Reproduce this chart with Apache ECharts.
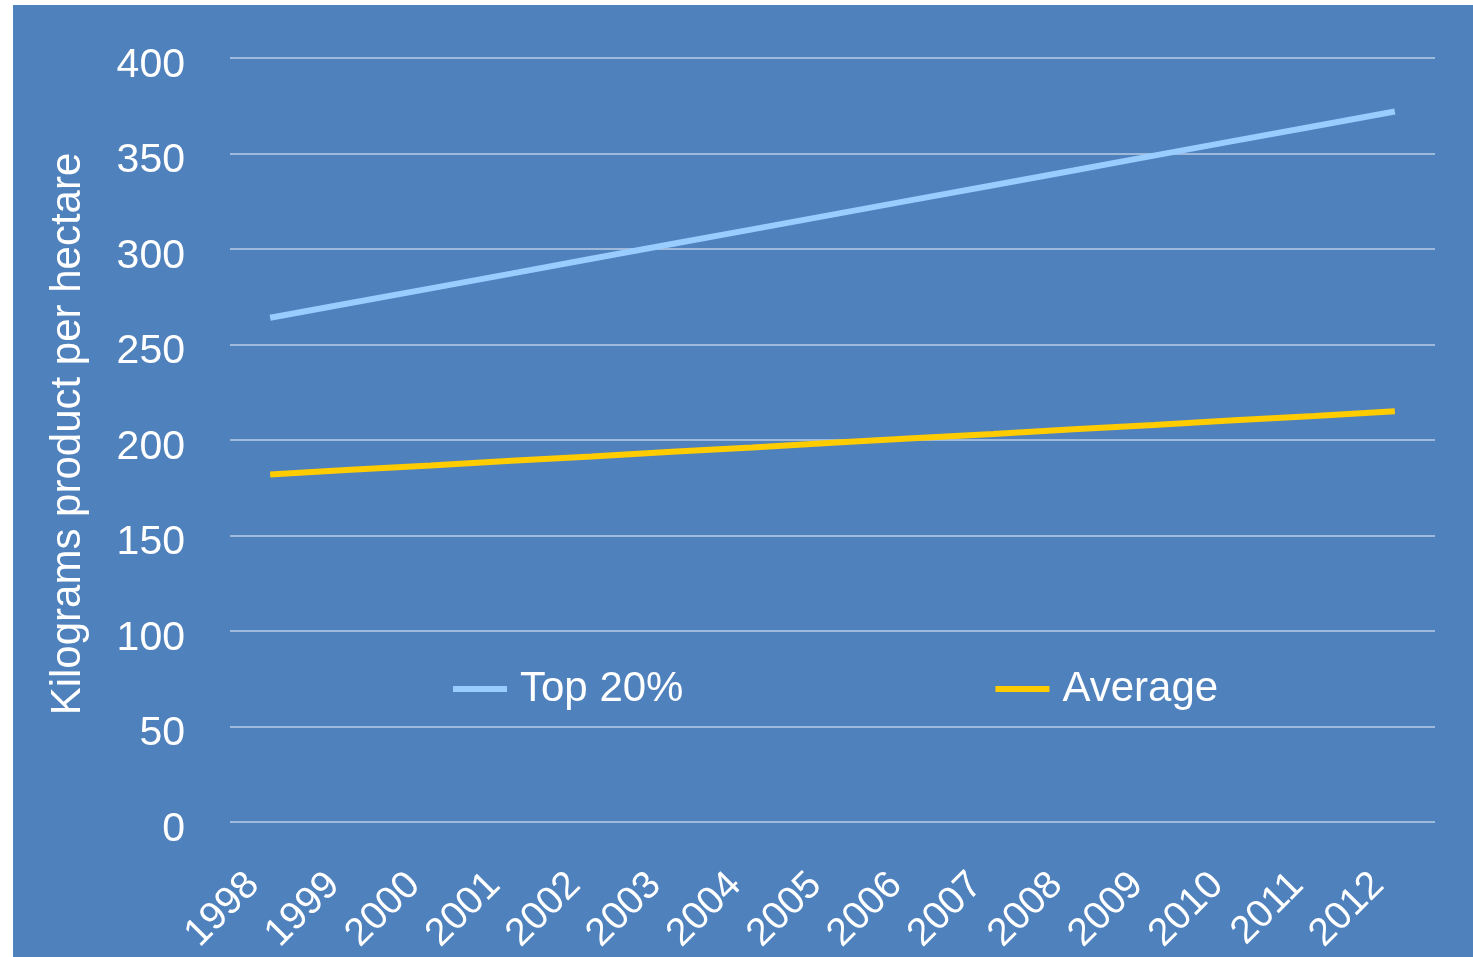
<!DOCTYPE html>
<html>
<head>
<meta charset="utf-8">
<script src="https://cdn.jsdelivr.net/npm/echarts@6/dist/echarts.min.js"></script>
<style>
html,body{margin:0;padding:0;background:#ffffff;width:1473px;height:957px;overflow:hidden;}
#chart{position:absolute;left:13px;top:5px;width:1460px;height:952px;}
</style>
</head>
<body>
<div id="chart"></div>
<script>
const years = ['1998','1999','2000','2001','2002','2003','2004','2005','2006','2007','2008','2009','2010','2011','2012'];
const top20 = [264, 271.7, 279.4, 287.1, 294.9, 302.6, 310.3, 318, 325.7, 333.4, 341.1, 348.9, 356.6, 364.3, 372];
const average = [182, 184.4, 186.7, 189.1, 191.4, 193.8, 196.1, 198.5, 200.9, 203.2, 205.6, 207.9, 210.3, 212.6, 215];
const seriesNames = ['Top 20%', 'Average'];
const yTitle = 'Kilograms product per hectare';

const font = 'Liberation Sans, Arial, sans-serif';
const chart = echarts.init(document.getElementById('chart'));
chart.setOption({
  backgroundColor: '#4F81BD',
  animation: false,
  grid: {left: 217, right: 38, top: 53, bottom: 135, containLabel: false},
  legend: {
    left: 435, top: 658,
    icon: 'rect', itemWidth: 54, itemHeight: 6, itemGap: 312,
    textStyle: {color: '#ffffff', fontSize: 42, fontFamily: font, padding: [0, 0, 0, 8]},
    data: seriesNames
  },
  xAxis: {
    type: 'category', data: years, boundaryGap: true,
    axisLine: {show: false}, axisTick: {show: false},
    axisLabel: {color: '#ffffff', fontSize: 39, fontFamily: font, rotate: 45, margin: 40, interval: 0,
                padding: [0, 24, 0, 0]}
  },
  yAxis: {
    type: 'value', min: 0, max: 400, interval: 50,
    name: yTitle, nameLocation: 'middle', nameGap: 141,
    nameTextStyle: {color: '#ffffff', fontSize: 42, fontFamily: font, padding: [0, 0, 0, 12]},
    axisLine: {show: false}, axisTick: {show: false},
    axisLabel: {color: '#ffffff', fontSize: 41, fontFamily: font, margin: 45,
                verticalAlign: 'top', lineHeight: 15},
    splitLine: {lineStyle: {color: '#B9CDE5', width: 1.5}}
  },
  series: [
    {name: seriesNames[0], type: 'line', data: top20, showSymbol: false, symbol: 'none',
     lineStyle: {color: '#99CCFF', width: 6}, itemStyle: {color: '#99CCFF'}},
    {name: seriesNames[1], type: 'line', data: average, showSymbol: false, symbol: 'none',
     lineStyle: {color: '#FFCC00', width: 6}, itemStyle: {color: '#FFCC00'}}
  ]
});
</script>
</body>
</html>
